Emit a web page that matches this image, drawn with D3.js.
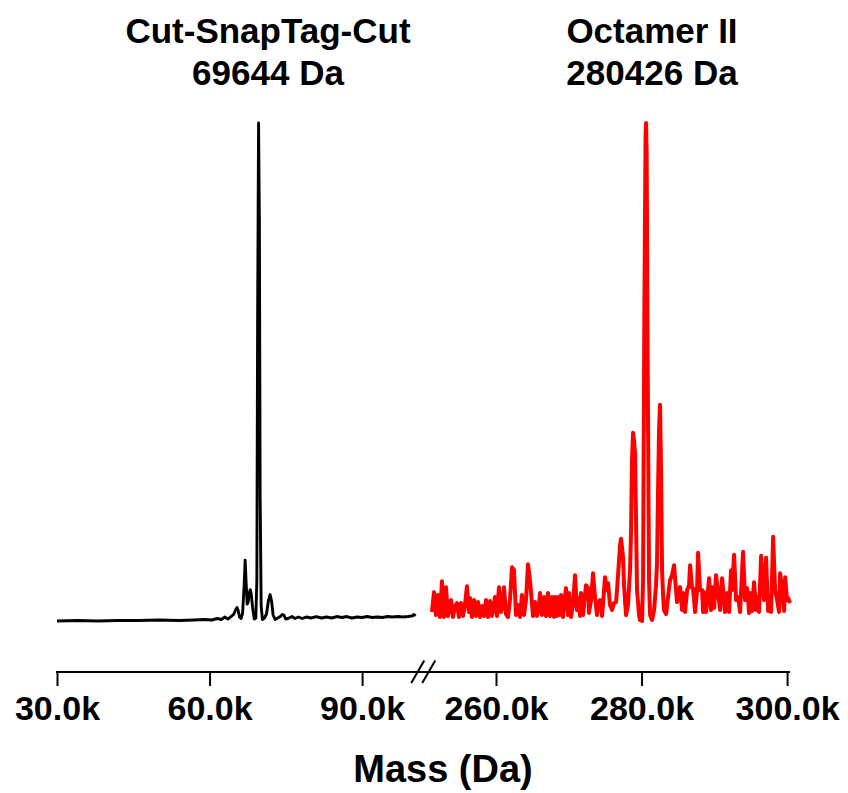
<!DOCTYPE html>
<html>
<head>
<meta charset="utf-8">
<script src="https://cdn.jsdelivr.net/npm/d3@7"></script>
<style>
  body { margin: 0; background: #fff; }
  svg text { font-family: Arial, "Liberation Sans", sans-serif; font-weight: bold; fill: #000; }
</style>
</head>
<body>
<svg id="chart" width="848" height="793"></svg>
<script>
// Deconvoluted spectra: [mass (kDa), relative intensity (%)]
let black_spectrum = [
  [30.0, 0.0], [34.0, 0.1], [38.0, 0.0], [42.0, 0.1], [46.0, 0.1], [50.0, 0.2], [54.0, 0.1],
  [57.0, 0.2], [59.0, 0.3], [60.5, 0.2], [61.5, 0.5], [62.3, 0.3], [63.0, 0.8], [63.6, 0.4],
  [64.2, 0.9], [64.8, 1.4], [65.2, 2.4], [65.4, 2.7], [65.6, 2.2], [65.9, 0.8], [66.2, 0.5],
  [66.5, 1.6], [66.8, 7.0], [67.0, 12.2], [67.2, 7.5], [67.4, 3.4], [67.6, 3.8], [67.8, 5.6],
  [68.0, 6.3], [68.2, 5.4], [68.5, 2.4], [68.8, 0.4], [69.1, 0.6], [69.3, 8.0], [69.45, 60.0],
  [69.64, 100.0], [69.8, 80.0], [69.95, 25.0], [70.15, 3.0], [70.4, 0.3], [70.8, 0.6], [71.2, 1.4],
  [71.6, 4.2], [71.9, 5.3], [72.2, 4.0], [72.5, 1.2], [72.9, 0.3], [73.4, 0.6], [73.9, 0.9],
  [74.3, 1.3], [74.6, 1.2], [75.0, 0.4], [75.6, 0.6], [76.2, 0.9], [76.8, 0.5], [77.5, 0.8],
  [78.2, 0.5], [79.0, 0.8], [80.0, 0.6], [81.0, 0.9], [82.0, 0.6], [83.0, 0.8], [84.0, 0.6],
  [85.0, 0.9], [86.0, 0.7], [87.0, 0.9], [88.0, 0.6], [89.0, 0.8], [90.0, 0.7], [91.0, 0.9],
  [92.0, 0.7], [93.0, 0.8], [94.0, 0.7], [95.0, 0.9], [96.0, 0.8], [97.0, 0.9], [98.0, 0.8],
  [99.0, 0.9], [99.8, 1.0], [100.2, 1.3], [100.5, 1.0]
];

let red_spectrum = [
  [251.20, 1.8], [251.48, 5.8], [251.75, 1.2], [252.03, 5.2], [252.30, 0.8], [252.58, 8.0],
  [252.85, 0.8], [253.13, 6.8], [253.40, 1.0], [253.68, 3.2], [253.81, 4.2], [254.09, 0.8],
  [254.36, 3.0], [254.64, 3.6], [254.91, 0.8], [255.19, 3.6], [255.46, 1.0], [255.74, 3.2],
  [256.01, 7.0], [256.29, 1.8], [256.43, 4.6], [256.70, 0.8], [256.98, 4.2], [257.25, 1.0],
  [257.53, 3.8], [257.80, 0.8], [258.08, 3.0], [258.35, 1.0], [258.63, 4.2], [258.90, 0.8],
  [259.18, 4.0], [259.45, 1.0], [259.73, 3.4], [259.86, 4.8], [260.14, 1.0], [260.41, 6.8],
  [260.69, 1.8], [260.82, 2.6], [261.10, 6.8], [261.37, 1.4], [261.65, 0.8], [261.92, 4.2],
  [262.20, 10.8], [262.47, 10.2], [262.75, 1.2], [263.02, 3.2], [263.30, 0.8], [263.57, 5.2],
  [263.85, 1.2], [264.12, 4.2], [264.40, 11.4], [264.67, 8.2], [264.81, 5.8], [265.09, 1.0],
  [265.36, 3.8], [265.64, 1.0], [265.91, 3.2], [266.05, 5.6], [266.32, 1.2], [266.60, 4.8],
  [266.87, 1.0], [267.15, 5.6], [267.42, 1.0], [267.70, 4.8], [267.97, 0.8], [268.11, 4.8],
  [268.39, 1.0], [268.52, 4.8], [268.80, 1.2], [268.93, 5.2], [269.21, 0.8], [269.35, 3.4],
  [269.62, 6.6], [269.90, 1.2], [270.03, 5.6], [270.31, 0.8], [270.58, 3.2], [270.86, 9.2],
  [271.13, 2.2], [271.27, 4.6], [271.55, 1.0], [271.68, 5.6], [271.96, 1.2], [272.10, 3.4],
  [272.37, 7.2], [272.65, 6.6], [272.78, 1.6], [273.06, 4.2], [273.33, 9.6], [273.61, 4.8],
  [273.88, 1.2], [274.02, 3.6], [274.30, 4.2], [274.57, 1.0], [274.71, 3.4], [274.98, 8.8],
  [275.26, 6.2], [275.40, 7.6], [275.67, 3.2], [275.95, 2.2], [276.22, 3.6], [276.50, 3.8],
  [276.63, 6.2], [276.91, 12.2], [277.05, 15.3], [277.18, 16.5], [277.32, 14.7], [277.46, 12.7],
  [277.59, 7.2], [277.87, 1.2], [278.14, 3.2], [278.42, 10.2], [278.56, 17.9], [278.69, 32.3],
  [278.83, 37.8], [278.97, 36.3], [279.11, 33.7], [279.24, 20.3], [279.38, 6.2], [279.66, 1.2],
  [279.79, 0.2], [280.07, 0.0], [280.21, 8.2], [280.38, 60.0], [280.55, 97.0], [280.62, 100.0],
  [280.70, 94.0], [280.85, 50.0], [281.03, 8.2], [281.17, 1.2], [281.44, 0.2], [281.72, 2.2],
  [281.99, 7.2], [282.13, 11.8], [282.27, 26.3], [282.41, 38.4], [282.54, 43.4], [282.68, 30.3],
  [282.82, 10.2], [282.96, 5.2], [283.09, 2.2], [283.37, 1.4], [283.64, 4.8], [283.92, 8.2],
  [284.19, 9.2], [284.47, 11.2], [284.74, 6.2], [284.88, 3.8], [285.16, 6.2], [285.29, 6.8],
  [285.57, 2.2], [285.71, 5.6], [285.98, 1.8], [286.26, 6.2], [286.53, 7.2], [286.67, 11.2],
  [286.94, 6.6], [287.08, 6.6], [287.36, 1.8], [287.63, 6.2], [287.77, 13.7], [288.04, 6.2],
  [288.32, 6.2], [288.45, 1.8], [288.59, 5.8], [288.87, 1.8], [289.14, 6.2], [289.28, 8.6],
  [289.55, 2.2], [289.69, 6.8], [289.97, 2.6], [290.24, 9.2], [290.52, 5.8], [290.79, 2.2],
  [291.07, 8.6], [291.34, 4.2], [291.48, 1.8], [291.75, 5.6], [292.03, 1.8], [292.30, 10.2],
  [292.44, 6.2], [292.72, 13.3], [292.99, 4.2], [293.27, 4.8], [293.54, 1.8], [293.95, 13.9],
  [294.23, 4.2], [294.50, 6.6], [294.78, 1.6], [294.91, 5.6], [295.19, 2.0], [295.46, 7.8],
  [295.74, 2.2], [295.88, 4.8], [296.15, 1.8], [296.43, 13.1], [296.70, 6.8], [296.84, 4.2],
  [297.11, 12.7], [297.39, 2.0], [297.53, 4.8], [297.80, 1.8], [298.08, 16.9], [298.35, 6.2],
  [298.63, 4.2], [298.90, 1.8], [299.04, 9.6], [299.31, 6.2], [299.59, 2.0], [299.73, 8.8],
  [300.00, 4.2], [300.14, 4.6], [300.41, 3.6]
];

let left_ticks = [30, 60, 90];
let right_ticks = [260, 280, 300];
let titles = [
  { lines: ["Cut-SnapTag-Cut", "69644 Da"], side: "left" },
  { lines: ["Octamer II", "280426 Da"], side: "right" }
];
let x_label = "Mass (Da)";

let svg = d3.select("#chart");

// broken x axis: two linear pieces side by side
let x_left = d3.scaleLinear().domain([30, 100.6]).range([57, 416]);
let x_right = d3.scaleLinear().domain([251.0, 300.4]).range([430.5, 790]);
let y = d3.scaleLinear().domain([0, 100]).range([621, 123]);

let line_left = d3.line().x(d => x_left(d[0])).y(d => y(d[1]));
let line_right = d3.line().x(d => x_right(d[0])).y(d => y(d[1]));

svg.append("path")
  .datum(black_spectrum)
  .attr("d", line_left)
  .attr("fill", "none")
  .attr("stroke", "#000")
  .attr("stroke-width", 2.9)
  .attr("stroke-linejoin", "round");

svg.append("path")
  .datum(red_spectrum)
  .attr("d", line_right)
  .attr("fill", "none")
  .attr("stroke", "#ff0000")
  .attr("stroke-width", 4.0)
  .attr("stroke-linejoin", "round");

// axes
let axis_y = 672;
let fmt = d => d3.format(".1f")(d) + "k";

let ax_left = svg.append("g")
  .attr("transform", "translate(0," + axis_y + ")")
  .call(d3.axisBottom(x_left).tickValues(left_ticks).tickFormat(fmt).tickSize(14).tickSizeOuter(0));
let ax_right = svg.append("g")
  .attr("transform", "translate(0," + axis_y + ")")
  .call(d3.axisBottom(x_right).tickValues(right_ticks).tickFormat(fmt).tickSize(14).tickSizeOuter(0));

[ax_left, ax_right].forEach(ax => {
  ax.select(".domain").remove();
  ax.selectAll(".tick line").attr("stroke", "#000").attr("stroke-width", 2);
  ax.selectAll(".tick text")
    .attr("y", 24)
    .attr("dy", "0.71em")
    .style("font-size", "34px")
    .style("font-family", "Arial, 'Liberation Sans', sans-serif")
    .style("font-weight", "bold");
});

// continuous axis line with the break marks
svg.append("line")
  .attr("x1", x_left(30) - 1).attr("x2", x_right(300.4))
  .attr("y1", axis_y).attr("y2", axis_y)
  .attr("stroke", "#000").attr("stroke-width", 2);

let brk = (x_left.range()[1] + x_right.range()[0]) / 2;
[-5.5, 5.5].forEach(off => {
  svg.append("line")
    .attr("x1", brk + off - 6.5).attr("y1", axis_y + 11)
    .attr("x2", brk + off + 6.5).attr("y2", axis_y - 11.5)
    .attr("stroke", "#000").attr("stroke-width", 2);
});

// titles over each peak
titles.forEach(t => {
  let cx = t.side === "left" ? 268 : 652;
  let g = svg.append("text")
    .attr("x", cx)
    .attr("text-anchor", "middle")
    .style("font-size", "35px");
  t.lines.forEach((s, i) => {
    g.append("tspan").attr("x", cx).attr("y", 43 + i * 42).text(s);
  });
});

svg.append("text")
  .attr("x", 443)
  .attr("y", 782)
  .attr("text-anchor", "middle")
  .style("font-size", "38px")
  .text(x_label);
</script>
</body>
</html>
